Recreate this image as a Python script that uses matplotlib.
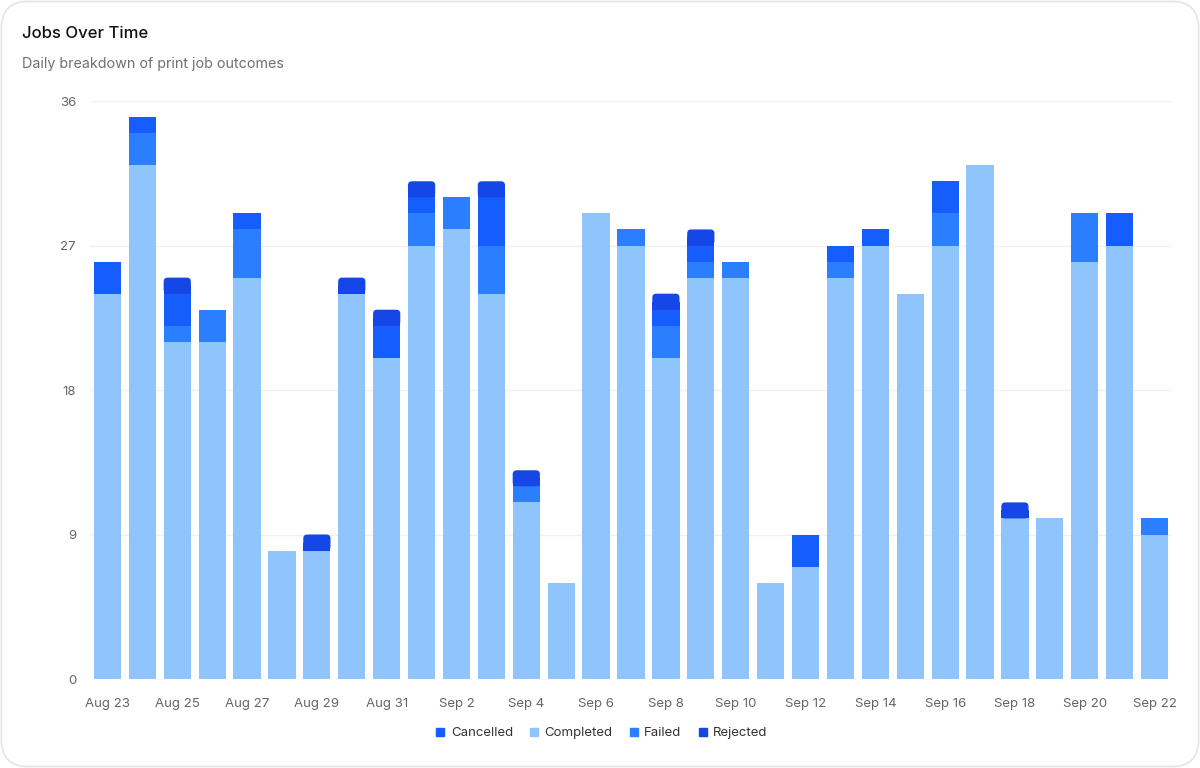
import matplotlib.pyplot as plt
from matplotlib.patches import FancyBboxPatch
from matplotlib.lines import Line2D
import numpy as np

plt.rcParams['font.family'] = ['Inter', 'DejaVu Sans']

# Daily counts, Aug 23 .. Sep 22
days = ['Aug 23', 'Aug 24', 'Aug 25', 'Aug 26', 'Aug 27', 'Aug 28', 'Aug 29', 'Aug 30',
        'Aug 31', 'Sep 1', 'Sep 2', 'Sep 3', 'Sep 4', 'Sep 5', 'Sep 6', 'Sep 7', 'Sep 8',
        'Sep 9', 'Sep 10', 'Sep 11', 'Sep 12', 'Sep 13', 'Sep 14', 'Sep 15', 'Sep 16',
        'Sep 17', 'Sep 18', 'Sep 19', 'Sep 20', 'Sep 21', 'Sep 22']
completed = [24, 32, 21, 21, 25, 8, 8, 24, 20, 27, 28, 24, 11, 6, 29, 27, 20, 25, 25, 6,
             7, 25, 27, 24, 27, 32, 10, 10, 26, 27, 9]
failed = [0, 2, 1, 2, 3, 0, 0, 0, 0, 2, 2, 3, 1, 0, 0, 1, 2, 1, 1, 0,
          0, 1, 0, 0, 2, 0, 0, 0, 3, 0, 1]
cancelled = [2, 1, 2, 0, 1, 0, 0, 0, 2, 1, 0, 3, 0, 0, 0, 0, 1, 1, 0, 0,
             2, 1, 1, 0, 2, 0, 0, 0, 0, 2, 0]
rejected = [0, 0, 1, 0, 0, 0, 1, 1, 1, 1, 0, 1, 1, 0, 0, 0, 1, 1, 0, 0,
            0, 0, 0, 0, 0, 0, 1, 0, 0, 0, 0]

colors = {
    'Cancelled': '#155dfc',
    'Completed': '#90c4fd',
    'Failed': '#2b7fff',
    'Rejected': '#1447e6',
}

W, H = 1200, 768
fig = plt.figure(figsize=(W / 100, H / 100), dpi=100)
fig.patch.set_facecolor('white')

# card outline (behind everything)
card = FancyBboxPatch((1.5 / W, 1.5 / H), 1 - 3 / W, 1 - 3 / H,
                      boxstyle="round,pad=0,rounding_size=0.022",
                      mutation_aspect=W / H,
                      transform=fig.transFigure, facecolor='white',
                      edgecolor='#e4e4e7', linewidth=1.2, zorder=-10)
fig.patches.append(card)

fig.text(22 / W, 1 - 34 / H, "Jobs Over Time", fontsize=12, fontweight='medium',
         color='#111111', va='center', ha='left')
fig.text(22 / W, 1 - 64 / H, "Daily breakdown of print job outcomes", fontsize=10.3,
         color='#707070', va='center', ha='left')

left, right, top, bottom = 90, 1172, 101, 679
ax = fig.add_axes([left / W, 1 - bottom / H, (right - left) / W, (bottom - top) / H])
ax.set_facecolor('none')
ax.set_zorder(1)

x = np.arange(len(days))
bw = 0.78
c = np.array(completed)
f = np.array(failed)
ca = np.array(cancelled)
r = np.array(rejected)

ax.bar(x, c, width=bw, color=colors['Completed'], zorder=3)
ax.bar(x, f, width=bw, bottom=c, color=colors['Failed'], zorder=3)
ax.bar(x, ca, width=bw, bottom=c + f, color=colors['Cancelled'], zorder=3)

# rejected sits on top with rounded top corners
px_x = (right - left) / len(days)
px_y = (bottom - top) / 36
rad = 4 / px_x
base_r = c + f + ca
for i in range(len(days)):
    if r[i] <= 0:
        continue
    box = FancyBboxPatch((x[i] - bw / 2, base_r[i]), bw, r[i],
                         boxstyle=f"round,pad=0,rounding_size={rad}",
                         mutation_aspect=px_x / px_y,
                         facecolor=colors['Rejected'], edgecolor='none', zorder=3)
    ax.add_patch(box)
    ax.bar(x[i], r[i] / 2, width=bw, bottom=base_r[i], color=colors['Rejected'], zorder=3)

ax.set_xlim(-0.5, len(days) - 0.5)
ax.set_ylim(0, 36)
ax.set_yticks([0, 9, 18, 27, 36])
ax.set_xticks(x[::2])
ax.set_xticklabels(days[::2])
ax.grid(axis='y', color='#f0f0f0', linewidth=1, zorder=0)
ax.tick_params(axis='both', length=0, labelsize=9.5, colors='#666666')
ax.tick_params(axis='x', pad=14)
ax.tick_params(axis='y', pad=10)
for s in ax.spines.values():
    s.set_visible(False)

handles = [Line2D([], [], marker='s', linestyle='none', markersize=6,
                  markerfacecolor=colors[k], markeredgecolor=colors[k], label=k)
           for k in ['Cancelled', 'Completed', 'Failed', 'Rejected']]
fig.legend(handles=handles, loc='center', bbox_to_anchor=(0.5, 1 - 733 / H), ncol=4,
           frameon=False, fontsize=9.5, handletextpad=0.2, columnspacing=1.0,
           handlelength=1.2, labelcolor='#333333')

fig.savefig('out.png', dpi=100, facecolor='white')
